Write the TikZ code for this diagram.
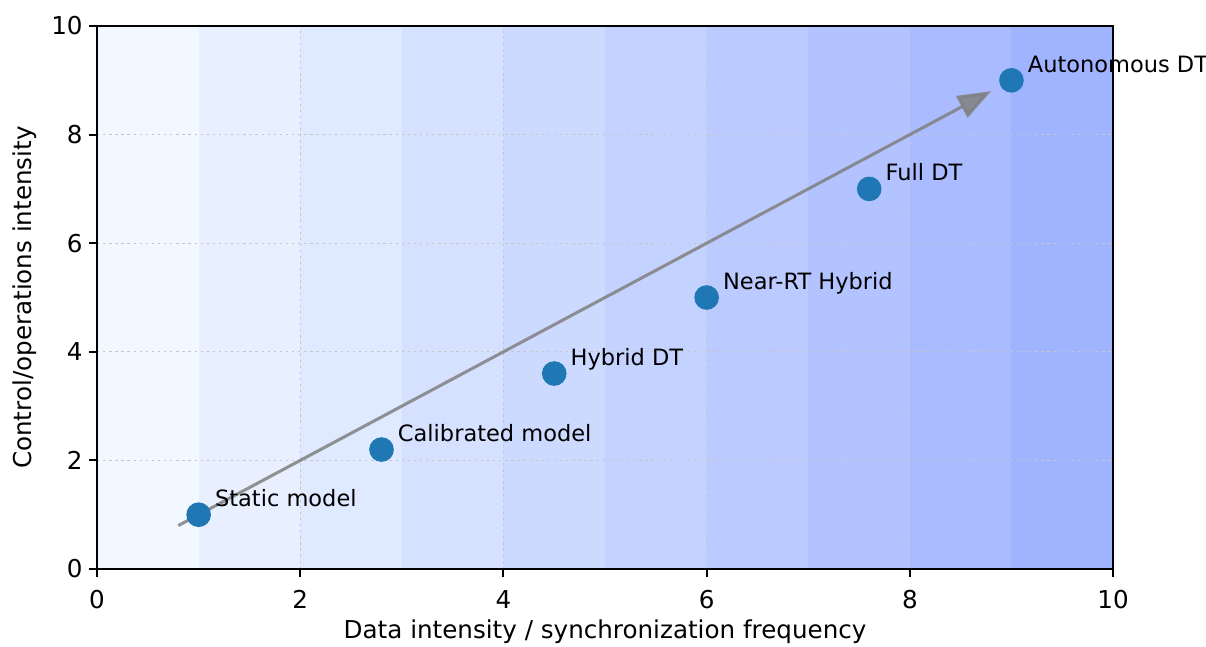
\documentclass[tikz,border=0pt]{standalone}
\usepackage{fontspec}
\setmainfont{DejaVu Sans}
\usepackage{tikz}
\usetikzlibrary{arrows.meta}
\definecolor{bandlo}{RGB}{241,248,255}
\definecolor{bandhi}{RGB}{160,179,255}
\definecolor{dotblue}{RGB}{31,119,180}
\tikzset{
    frame/.style={draw=black, line width=0.85pt},
    gridline/.style={draw=gray!45, line width=0.45pt, dash pattern=on 1pt off 1.6pt},
    tick/.style={draw=black, line width=0.85pt},
    ticklbl/.style={inner sep=0pt, font=\fontsize{10.5}{12}\selectfont},
    dot/.style={circle, fill=dotblue, minimum size=0.37cm, inner sep=0pt},
    lbl/.style={inner sep=0pt, anchor=base west, font=\fontsize{9.6}{12}\selectfont},
    axislbl/.style={inner sep=0pt, font=\fontsize{10.5}{12}\selectfont},
    trend/.style={draw=gray, opacity=0.85, line width=1.3pt, -{Triangle[length=0.5cm, width=0.36cm]}}
}
\begin{document}
\begin{tikzpicture}[x=1.524cm, y=0.8145cm]
        \useasboundingbox (-0.955,-1.418) rectangle (10.915,10.479);
        
        % Background bands
        \foreach \i in {0,...,9} {
            \pgfmathtruncatemacro\t{\i*100/9}
            \fill[bandhi!\t!bandlo] (\i,0) rectangle (\i+1,10);
        }
        
        % Grid
        \foreach \g in {2,4,6,8} {
            \draw[gridline] (\g,0) -- (\g,10);
            \draw[gridline] (0,\g) -- (10,\g);
        }
        
        % Axes and ticks
        \draw[frame] (0,0) rectangle (10,10);
        \foreach \g in {0,2,4,6,8,10} {
            \draw[tick] (\g,0) -- ++(0,-0.12cm);
            \node[ticklbl, anchor=north] (xt\g) at ([yshift=-0.31cm]\g,0) {\g};
            \draw[tick] (0,\g) -- ++(-0.12cm,0);
            \node[ticklbl, anchor=east] (yt\g) at ([xshift=-0.21cm]0,\g) {\g};
        }
        \node[axislbl] (xlabel) at (5,-1.16) {Data intensity / synchronization frequency};
        \node[axislbl, rotate=90] (ylabel) at (-0.71,5) {Control/operations intensity};
        
        % Trend arrow
        \coordinate (trendstart) at (0.8,0.8);
        \coordinate (trendend) at (8.8,8.8);
        \draw[trend] (trendstart) -- (trendend);
        
        % Maturity stages
        \node (static) [dot] at (1,1) {};
        \node (calib) [dot] at (2.8,2.2) {};
        \node (hybrid) [dot] at (4.5,3.6) {};
        \node (nearrt) [dot] at (6,5) {};
        \node (full) [dot] at (7.6,7) {};
        \node (auto) [dot] at (9,9) {};
        
        \node (staticlbl) [lbl] at ([shift={(0.24cm,0.12cm)}]static.center) {Static model};
        \node (caliblbl) [lbl] at ([shift={(0.24cm,0.12cm)}]calib.center) {Calibrated model};
        \node (hybridlbl) [lbl] at ([shift={(0.24cm,0.12cm)}]hybrid.center) {Hybrid DT};
        \node (nearrtlbl) [lbl] at ([shift={(0.24cm,0.12cm)}]nearrt.center) {Near-RT Hybrid};
        \node (fulllbl) [lbl] at ([shift={(0.24cm,0.12cm)}]full.center) {Full DT};
        \node (autolbl) [lbl] at ([shift={(0.24cm,0.12cm)}]auto.center) {Autonomous DT};
        
    \end{tikzpicture}
\end{document}
